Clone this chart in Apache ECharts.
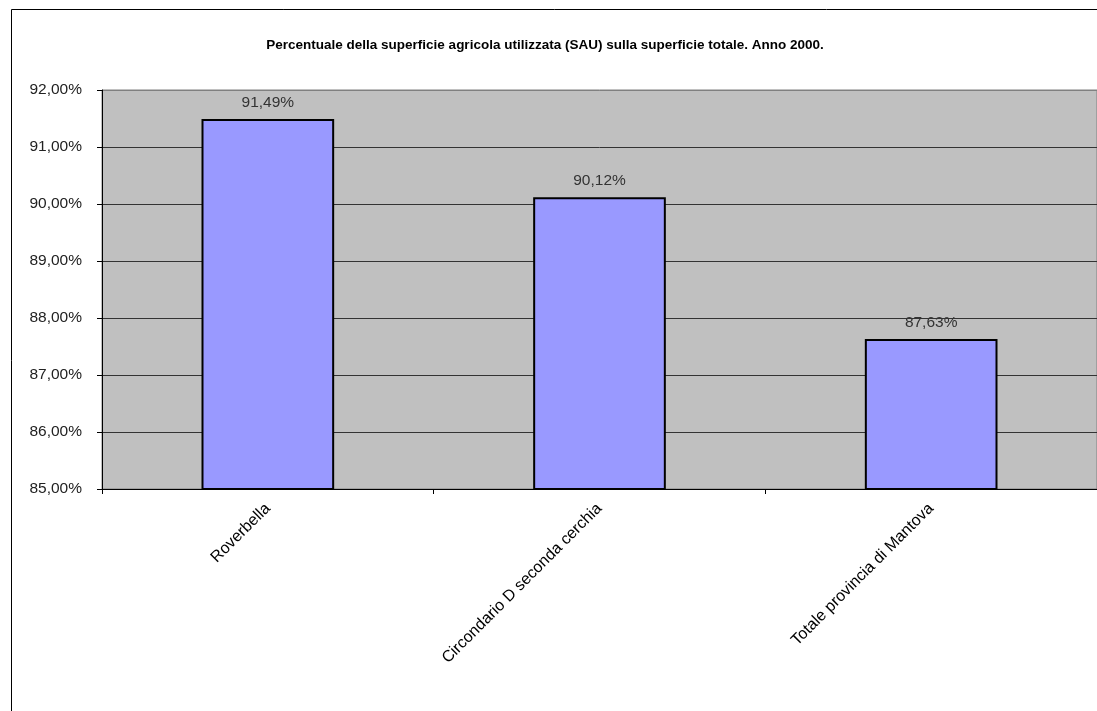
<!DOCTYPE html>
<html><head><meta charset="utf-8">
<script src="https://cdn.jsdelivr.net/npm/echarts@6/dist/echarts.min.js"></script>
<style>html,body{margin:0;padding:0;background:#fff;}#c{width:1097px;height:711px;}</style>
</head><body><div id="c"></div>
<script>
const titleText = 'Percentuale della superficie agricola utilizzata (SAU) sulla superficie totale. Anno 2000.';
const categories = ['Roverbella', 'Circondario D seconda cerchia', 'Totale provincia di Mantova'];
const values = [91.49, 90.12, 87.63];
const yMin = 85, yMax = 92, yStep = 1;

const fmt = v => v.toFixed(2).replace('.', ',') + '%';
const font = '"Liberation Sans", Arial, sans-serif';
const chart = echarts.init(document.getElementById('c'), null, {renderer: 'canvas'});
chart.setOption({
  animation: false,
  backgroundColor: '#fff',
  title: {
    text: titleText, left: 540, top: 33, textAlign: 'center',
    textStyle: {fontFamily: font, fontSize: 13.5, fontWeight: 'bold', color: '#000'}
  },
  graphic: [{
    type: 'rect', shape: {x: 11.5, y: 9.5, width: 1200, height: 800},
    style: {fill: 'none', stroke: '#000', lineWidth: 1}, z: -1
  }],
  grid: {
    left: 102, top: 90, right: -7, bottom: 222,
    show: true, backgroundColor: '#C0C0C0', borderColor: '#808080', borderWidth: 1
  },
  xAxis: {
    type: 'category', data: categories,
    axisLine: {lineStyle: {color: '#000', width: 1}},
    axisTick: {show: true, length: 5, alignWithLabel: false, lineStyle: {color: '#000'}},
    axisLabel: {rotate: 45, margin: 17, fontFamily: font, fontSize: 16, color: '#000', interval: 0}
  },
  yAxis: {
    type: 'value', min: yMin, max: yMax, interval: yStep,
    axisLine: {show: true, lineStyle: {color: '#000', width: 1}},
    axisTick: {show: true, length: 5, lineStyle: {color: '#000'}},
    axisLabel: {formatter: v => fmt(v), fontFamily: font, fontSize: 15.5, color: '#222', margin: 20},
    splitLine: {show: true, lineStyle: {color: ['#000','#333','#333','#333','#333','#333','#333','#808080'], width: 1}}
  },
  series: [{
    type: 'bar', data: values, barWidth: '40%',
    itemStyle: {color: '#9999FF', borderColor: '#000', borderWidth: 2},
    label: {show: true, position: 'top', distance: 8, formatter: p => fmt(p.value),
      fontFamily: font, fontSize: 15.5, color: '#333'}
  }]
});
</script></body></html>
